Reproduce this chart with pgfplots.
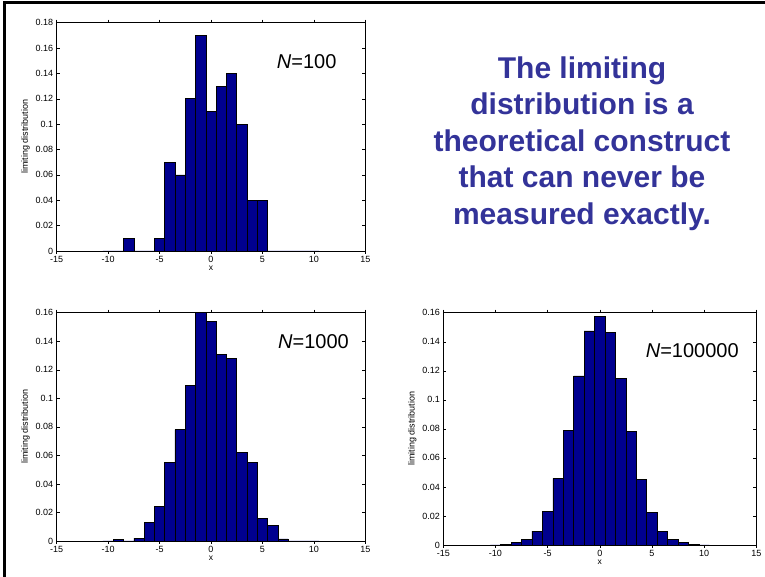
\documentclass[border=0pt]{standalone}
\usepackage{pgfplots}
\pgfplotsset{compat=1.18}
\usepackage{pgfplotstable}
\usepackage{fontspec}
\setmainfont{Liberation Sans}
\definecolor{histbar}{RGB}{0,0,143}
\definecolor{slideblue}{RGB}{51,51,153}

% bin centre, relative frequency
\pgfplotstableread{
x y
-10 0
-9 0
-8 0.01
-7 0
-6 0
-5 0.01
-4 0.07
-3 0.06
-2 0.12
-1 0.17
0 0.11
1 0.13
2 0.14
3 0.10
4 0.04
5 0.04
6 0
7 0
8 0
9 0
10 0
}\histA
\pgfplotstableread{
x y
-10 0
-9 0.001
-8 0
-7 0.002
-6 0.013
-5 0.024
-4 0.055
-3 0.078
-2 0.109
-1 0.160
0 0.154
1 0.131
2 0.128
3 0.062
4 0.055
5 0.016
6 0.011
7 0.0015
8 0
9 0
10 0
}\histB
\pgfplotstableread{
x y
-10 0.0001
-9 0.0005
-8 0.0016
-7 0.0041
-6 0.0096
-5 0.0234
-4 0.0459
-3 0.0792
-2 0.1164
-1 0.1474
0 0.1577
1 0.1465
2 0.1148
3 0.0785
4 0.0452
5 0.0223
6 0.0096
7 0.0041
8 0.0016
9 0.0005
10 0.0001
}\histC

\pgfplotsset{
  histax/.style={
    anchor=south west, scale only axis,
    xmin=-15, xmax=15, ymin=0,
    xtick={-15,-10,...,15},
    tick align=inside, major tick length=3pt,
    tick style={black, line width=0.4pt},
    axis line style={black, line width=0.8pt},
    ticklabel style={font=\fontsize{9}{10}\selectfont},
    xticklabel style={yshift=1pt},
    /pgf/number format/assume math mode=true,
    yticklabel style={/pgf/number format/fixed, /pgf/number format/precision=2},
    scaled y ticks=false,
    xlabel={x}, ylabel={limiting distribution},
    xlabel style={font=\fontsize{8.5}{9}\selectfont, yshift=4pt},
    ylabel style={font=\fontsize{9}{10}\selectfont, yshift=-1pt},
    ybar, bar width=1, bar shift=0pt,
  },
  histbars/.style={fill=histbar, draw=black, line width=0.6pt},
}

\begin{document}
\begin{tikzpicture}
\path[use as bounding box] (0,0) rectangle (765pt,577pt);
\draw[line width=3pt, line cap=rect] (4pt,0) -- (4pt,574.3pt) -- (765pt,574.3pt);

\begin{axis}[histax, at={(56.7pt,326pt)}, width=308.6pt, height=228.3pt,
  ymax=0.18, ytick={0,0.02,0.04,0.06,0.08,0.1,0.12,0.14,0.16,0.18}]
\addplot[histbars] table[x=x,y=y] {\histA};
\node[font=\fontsize{20}{22}\selectfont] at (axis cs:9.3,0.149) {\textit{N}=100};
\end{axis}

\begin{axis}[histax, at={(56.7pt,36pt)}, width=308.6pt, height=228.3pt,
  ymax=0.16, ytick={0,0.02,0.04,0.06,0.08,0.1,0.12,0.14,0.16}]
\addplot[histbars] table[x=x,y=y] {\histB};
\node[font=\fontsize{20}{22}\selectfont] at (axis cs:9.97,0.1397) {\textit{N}=1000};
\end{axis}

\begin{axis}[histax, at={(443.3pt,32pt)}, width=313pt, height=232.3pt,
  ymax=0.16, ytick={0,0.02,0.04,0.06,0.08,0.1,0.12,0.14,0.16}]
\addplot[histbars] table[x=x,y=y] {\histC};
\node[font=\fontsize{20}{22}\selectfont] at (axis cs:8.86,0.1336) {\textit{N}=100000};
\end{axis}

\node[align=center, text=slideblue, font=\fontsize{30}{36.5}\selectfont\bfseries]
  at (582pt,433.5pt) {The limiting\\distribution is a\\theoretical construct\\that can never be\\measured exactly.};
\end{tikzpicture}
\end{document}
